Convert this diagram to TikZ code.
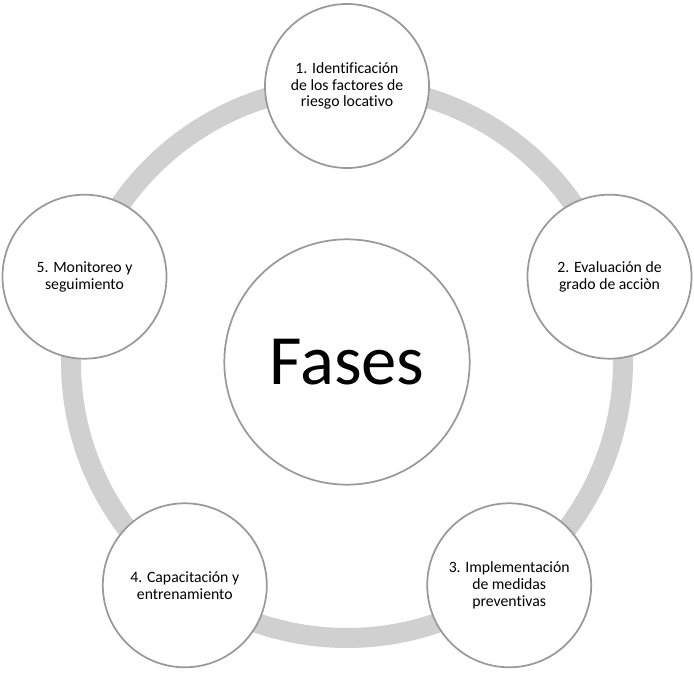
\documentclass[tikz,border=0pt]{standalone}
\usepackage{fontspec}
\setmainfont{Carlito}[Ligatures=NoCommon]
\usepackage{xcolor}
\usetikzlibrary{positioning}
\definecolor{anillo}{HTML}{D0D0D0}
\definecolor{borde}{HTML}{999999}

\begin{document}
\begin{tikzpicture}[x=0.75pt, y=-0.75pt,
            fase/.style={draw=borde, line width=1.3pt, circle, fill=white, minimum size=123pt, inner sep=0pt, align=center, font=\fontsize{11.8}{12.6}\selectfont},
            centro/.style={draw=borde, line width=1.3pt, circle, fill=white, minimum size=184pt, inner sep=0pt, font=\fontsize{53}{60}\selectfont},
            ring/.style={draw=anillo, line width=15pt}]

            \useasboundingbox (0,0) rectangle (694,673);

            \node[centro] (fases) at (347,362) {Fases};
            \draw[ring] (fases.center) circle (207pt);

            \node[fase] (ident) at (347,86) {1. Identificación\\de los factores de\\riesgo locativo};
            \node[fase] (eval) at (609.5,276.7) {2. Evaluación de\\grado de acciòn};
            \node[fase] (impl) at (509.2,585.3) {3. Implementación\\de medidas\\preventivas};
            \node[fase] (capac) at (184.8,585.3) {4. Capacitación y\\entrenamiento};
            \node[fase] (monit) at (84.5,276.7) {5. Monitoreo y\\seguimiento};
        \end{tikzpicture}
\end{document}
